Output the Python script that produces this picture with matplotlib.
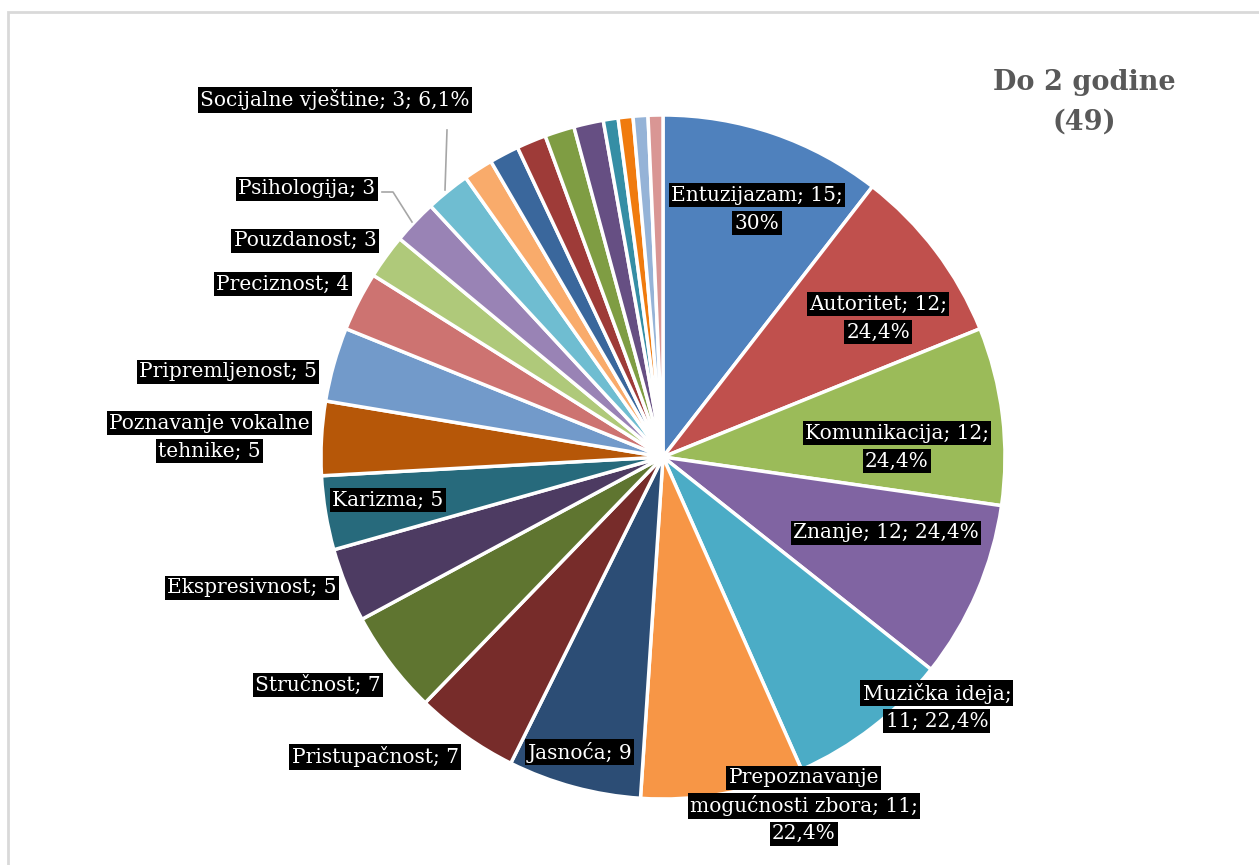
import matplotlib.pyplot as plt
from matplotlib.patches import Rectangle

# Odgovori ispitanika (do 2 godine staža, n = 49)
kategorije = ["Entuzijazam", "Autoritet", "Komunikacija", "Znanje", "Muzička ideja",
              "Prepoznavanje mogućnosti zbora", "Jasnoća", "Pristupačnost", "Stručnost",
              "Ekspresivnost", "Karizma", "Poznavanje vokalne tehnike", "Pripremljenost",
              "Preciznost", "Pouzdanost", "Psihologija", "Socijalne vještine",
              "", "", "", "", "", "", "", "", ""]
vrijednosti = [15, 12, 12, 12, 11, 11, 9, 7, 7, 5, 5, 5, 5, 4, 3, 3, 3,
               2, 2, 2, 2, 2, 1, 1, 1, 1]
# tekst oznaka, {v} se puni iz vrijednosti
oznake = ["Entuzijazam; {v};\n30%", "Autoritet; {v};\n24,4%", "Komunikacija; {v};\n24,4%",
          "Znanje; {v}; 24,4%", "Muzička ideja;\n{v}; 22,4%",
          "Prepoznavanje\nmogućnosti zbora; {v};\n22,4%", "Jasnoća; {v}", "Pristupačnost; {v}",
          "Stručnost; {v}", "Ekspresivnost; {v}", "Karizma; {v}",
          "Poznavanje vokalne\ntehnike; {v}", "Pripremljenost; {v}", "Preciznost; {v}",
          "Pouzdanost; {v}", "Psihologija; {v}", "Socijalne vještine; {v}; 6,1%",
          "", "", "", "", "", "", "", "", ""]
naslov = "Do 2 godine\n(49)"

boje = ["#4F81BD", "#C0504D", "#9BBB59", "#8064A2", "#4BACC6", "#F79646",
        "#2C4D75", "#772C2A", "#5F7530", "#4D3B62", "#276A7C", "#B65708",
        "#729ACA", "#CD7371", "#AFC97A", "#9983B5", "#6FBDD1", "#F9AB6B",
        "#3A679C", "#9E3B38", "#7F9D43", "#664F83", "#358EA5", "#F07B0E",
        "#95B3D7", "#D99694"]

# položaji oznaka u jedinicama polumjera
pozicije = [(0.275, 0.725), (0.629, 0.406), (0.684, 0.029), (0.652, -0.222),
            (0.801, -0.731), (0.412, -1.020), (-0.243, -0.863), (-0.842, -0.877),
            (-1.009, -0.667), (-1.202, -0.383), (-0.804, -0.126), (-1.327, 0.058),
            (-1.272, 0.249), (-1.111, 0.506), (-1.047, 0.632), (-1.041, 0.784),
            (-0.959, 1.044)]

W, H = 1259, 865
R = 342.0
cx, cy = 663, 457

fig = plt.figure(figsize=(W / 100, H / 100), dpi=100)
ax = fig.add_axes([0, 0, 1, 1])

ax.pie(vrijednosti, colors=boje, startangle=90, counterclock=False, radius=1,
       wedgeprops=dict(edgecolor="white", linewidth=2.5))
ax.set_xlim(-cx / R, (W - cx) / R)
ax.set_ylim((cy - H) / R, cy / R)
ax.set_aspect("equal", adjustable="datalim")
ax.axis("off")

font = "DejaVu Serif"
lh = 28 / R
for tekst, v, (x, y) in zip(oznake, vrijednosti, pozicije):
    redovi = tekst.format(v=v).split("\n")
    n = len(redovi)
    for i, red in enumerate(redovi):
        ax.text(x, y + (n - 1) / 2 * lh - i * lh, red, ha="center", va="center",
                color="white", fontsize=14.5, family=font,
                bbox=dict(facecolor="black", edgecolor="none", pad=1.6))

# linije vodilice za male isječke
siva = "#A6A6A6"
ax.plot([(382 - cx) / R, (393 - cx) / R, (412 - cx) / R],
        [(cy - 192) / R, (cy - 192) / R, (cy - 222) / R], color=siva, lw=1.2)
ax.plot([(447 - cx) / R, (445 - cx) / R],
        [(cy - 130) / R, (cy - 190) / R], color=siva, lw=1.2)

fig.text(1084 / W, 1 - 102 / H, naslov, ha="center", va="center", fontsize=19.5,
         fontweight="bold", color="#595959", family=font, linespacing=1.6)

# okvir grafikona
fig.patches.append(Rectangle((8 / W, -0.1), 1.2, (H - 12) / H + 0.1,
                             transform=fig.transFigure, fill=False,
                             edgecolor="#D9D9D9", linewidth=2))

fig.savefig("out.png", dpi=100)
